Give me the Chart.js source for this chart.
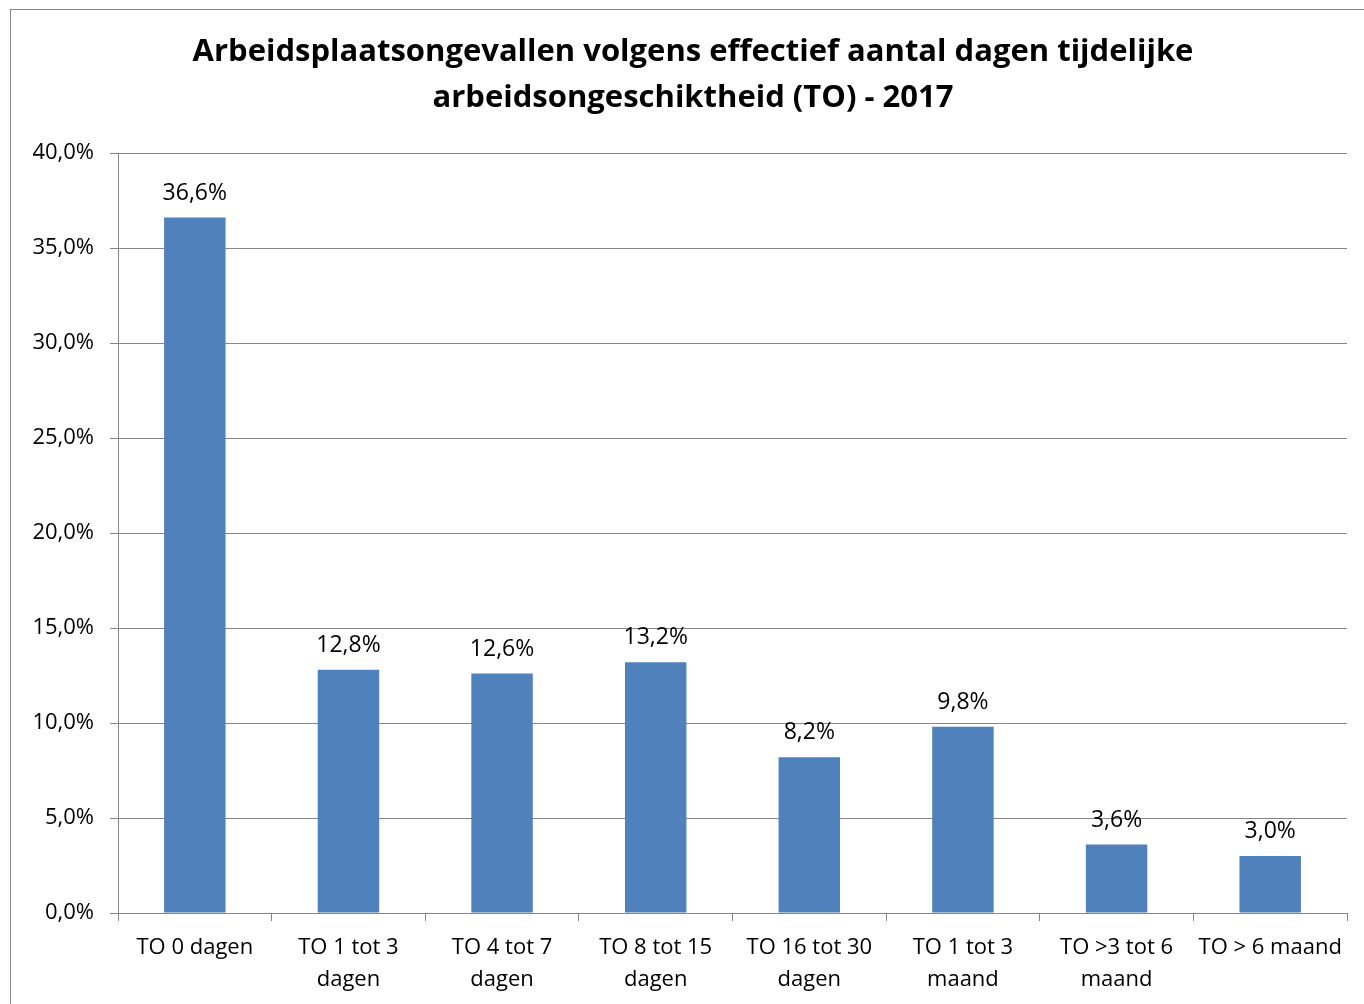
<!DOCTYPE html>
<html>
<head>
<meta charset="utf-8">
<script src="https://cdn.jsdelivr.net/npm/chart.js@4.4.1/dist/chart.umd.min.js"></script>
<style>
html,body{margin:0;padding:0;background:#fff;}
#wrap{width:1364px;height:1004px;position:relative;}
</style>
</head>
<body>
<div id="wrap"><canvas id="c" width="1364" height="1004"></canvas></div>
<script>
const titleLines = ['Arbeidsplaatsongevallen volgens effectief aantal dagen tijdelijke', 'arbeidsongeschiktheid (TO) - 2017'];
const categories = [
  ['TO 0 dagen'],
  ['TO 1 tot 3', 'dagen'],
  ['TO 4 tot 7', 'dagen'],
  ['TO 8 tot 15', 'dagen'],
  ['TO 16 tot 30', 'dagen'],
  ['TO 1 tot 3', 'maand'],
  ['TO >3 tot 6', 'maand'],
  ['TO > 6 maand']
];
const values = [36.6, 12.8, 12.6, 13.2, 8.2, 9.8, 3.6, 3.0];
const yMin = 0, yMax = 40, yStep = 5;

const FONT = "'Open Sans', 'Liberation Sans', sans-serif";
const fmt = v => v.toFixed(1).replace('.', ',') + '%';

const framePlugin = {
  id: 'frame',
  beforeDraw(chart) {
    const ctx = chart.ctx;
    ctx.save();
    ctx.fillStyle = '#fff';
    ctx.fillRect(0, 0, chart.width, chart.height);
    ctx.strokeStyle = '#868686';
    ctx.lineWidth = 1;
    ctx.strokeRect(10.5, 9.5, 1500, 1200);
    ctx.restore();
  },
  afterDraw(chart) {
    const ctx = chart.ctx;
    ctx.save();
    ctx.fillStyle = '#000';
    ctx.font = "bold 31px " + FONT;
    ctx.textAlign = 'center';
    ctx.textBaseline = 'middle';
    ctx.fillText(titleLines[0], 693, 52);
    ctx.fillText(titleLines[1], 693, 98);
    ctx.restore();
  }
};

const labelPlugin = {
  id: 'barLabels',
  afterDatasetsDraw(chart) {
    const ctx = chart.ctx;
    const meta = chart.getDatasetMeta(0);
    ctx.save();
    ctx.fillStyle = '#000';
    ctx.font = "23px " + FONT;
    ctx.textAlign = 'center';
    ctx.textBaseline = 'alphabetic';
    meta.data.forEach((bar, i) => {
      ctx.fillText(fmt(values[i]), bar.x, bar.y - 18);
    });
    ctx.restore();
  }
};

new Chart(document.getElementById('c'), {
  type: 'bar',
  data: {
    labels: categories,
    datasets: [{
      data: values,
      backgroundColor: '#4F81BD',
      borderWidth: 0,
      categoryPercentage: 1,
      barPercentage: 0.4
    }]
  },
  options: {
    responsive: false,
    animation: false,
    devicePixelRatio: 1,
    layout: { padding: { top: 153, left: 0, right: 17, bottom: 0 } },
    plugins: { legend: { display: false }, title: { display: false }, tooltip: { enabled: false } },
    scales: {
      x: {
        offset: true,
        grid: { display: true, offset: true, drawOnChartArea: false, drawTicks: true, tickLength: 8, color: '#868686', lineWidth: 1 },
        border: { display: true, color: '#868686', width: 1 },
        ticks: { color: '#000', font: { family: FONT, size: 22, lineHeight: 1.45 }, padding: 11, maxRotation: 0, autoSkip: false },
        afterFit(s) { s.height = 91; }
      },
      y: {
        min: yMin, max: yMax,
        grid: { color: '#868686', lineWidth: 1, drawTicks: true, tickLength: 8 },
        border: { display: true, color: '#868686', width: 1 },
        ticks: { stepSize: yStep, color: '#000', font: { family: FONT, size: 22 }, padding: 16, callback: v => fmt(v) },
        afterFit(s) { s.width = 118; }
      }
    }
  },
  plugins: [framePlugin, labelPlugin]
});
</script>
</body>
</html>
